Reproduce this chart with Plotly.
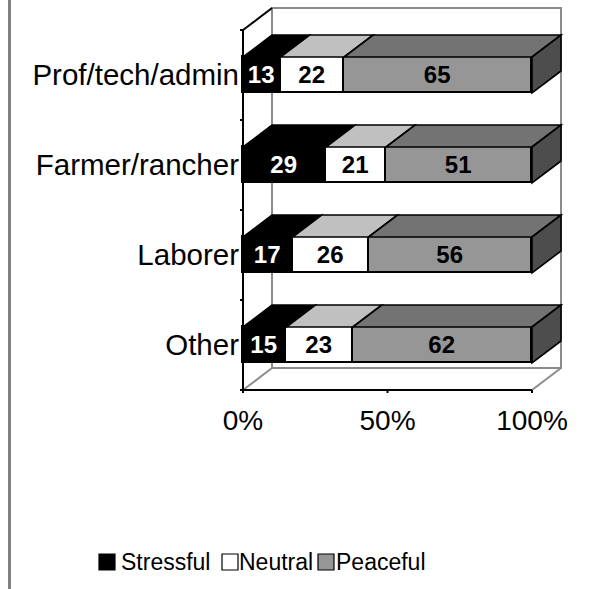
import plotly.graph_objects as go

# ---------------- data ----------------
categories = ["Prof/tech/admin", "Farmer/rancher", "Laborer", "Other"]
stressful = [13, 29, 17, 15]
neutral = [22, 21, 26, 23]
peaceful = [65, 51, 56, 62]
series_names = ["Stressful", "Neutral", "Peaceful"]
x_tickvals = [0, 50, 100]
x_ticktext = ["0%", "50%", "100%"]

# ---------------- style ----------------
FONT = "Arial, 'Liberation Sans', sans-serif"
front_colors = ["#000000", "#FFFFFF", "#969696"]
top_colors = ["#000000", "#C0C0C0", "#737373"]
side_color = "#4D4D4D"
text_colors = ["#FFFFFF", "#000000", "#000000"]
WALL = "#8C8C8C"
EDGE_W = 1.6

W, H = 602, 589
PL, PR, PT, PB = 240, 564, 5, 393        # plot area in pixels
X0_PX, X100_PX = 243, 532                 # where 0% and 100% sit
SX = (X100_PX - X0_PX) / 100.0            # px per unit
SY = 90.0                                 # px per category
FRONT_BOTTOM_PX = 390
DX = 29 / SX                              # depth offset in x units
DY = 22 / SY                              # depth offset in y units
BAR_H = 36 / SY

x_range = [-(X0_PX - PL) / SX, (PR - X0_PX) / SX]
y_bottom = -0.5 - (PB - FRONT_BOTTOM_PX) / SY
y_range = [y_bottom, y_bottom + (PB - PT) / SY]


def px2paper_x(px):
    return (px - PL) / (PR - PL)


def px2paper_y(py):
    return (PB - py) / (PB - PT)


n = len(categories)
ypos = [n - 1 - i for i in range(n)]      # first category at top
raw = [stressful, neutral, peaceful]
totals = [sum(v[i] for v in raw) for i in range(n)]
pct = [[v[i] / totals[i] * 100 for i in range(n)] for v in raw]

fig = go.Figure()
for k, name in enumerate(series_names):
    fig.add_trace(go.Bar(
        name=name, orientation="h", y=ypos, x=pct[k], width=BAR_H,
        marker=dict(color=front_colors[k], line=dict(color="black", width=EDGE_W)),
        text=[str(v) for v in raw[k]], textposition="inside",
        insidetextanchor="middle", textangle=0,
        textfont=dict(family=FONT, size=24, color=text_colors[k], weight="bold"),
        hoverinfo="skip", showlegend=False,
    ))

shapes = []
# walls / floor
shapes.append(dict(type="rect", xref="x", yref="y", x0=DX, x1=100 + DX,
                   y0=-0.5 + DY, y1=n - 0.5 + DY, line=dict(color=WALL, width=2),
                   layer="below"))
shapes.append(dict(type="line", xref="x", yref="y", x0=0, x1=DX, y0=-0.5, y1=-0.5 + DY,
                   line=dict(color=WALL, width=2), layer="below"))
shapes.append(dict(type="line", xref="x", yref="y", x0=100, x1=100 + DX, y0=-0.5,
                   y1=-0.5 + DY, line=dict(color=WALL, width=2), layer="below"))
shapes.append(dict(type="line", xref="x", yref="y", x0=0, x1=DX, y0=n - 0.5,
                   y1=n - 0.5 + DY, line=dict(color="black", width=2), layer="below"))

# 3D faces of the bars
for i in range(n):
    c = ypos[i]
    top = c + BAR_H / 2
    bot = c - BAR_H / 2
    start = 0.0
    for k in range(3):
        end = start + pct[k][i]
        path = (f"M{start},{top} L{end},{top} L{end + DX},{top + DY} "
                f"L{start + DX},{top + DY} Z")
        shapes.append(dict(type="path", xref="x", yref="y", path=path,
                           fillcolor=top_colors[k],
                           line=dict(color="black", width=EDGE_W), layer="above"))
        start = end
    path = (f"M{start},{bot} L{start},{top} L{start + DX},{top + DY} "
            f"L{start + DX},{bot + DY} Z")
    shapes.append(dict(type="path", xref="x", yref="y", path=path,
                       fillcolor=side_color,
                       line=dict(color="black", width=EDGE_W), layer="above"))

# axes lines and ticks
shapes.append(dict(type="line", xref="x", yref="y", x0=0, x1=0, y0=-0.5, y1=n - 0.5,
                   line=dict(color="black", width=2), layer="above"))
shapes.append(dict(type="line", xref="x", yref="y", x0=0, x1=100, y0=-0.5, y1=-0.5,
                   line=dict(color="black", width=2), layer="above"))
for tv in x_tickvals:
    shapes.append(dict(type="line", xref="x", yref="y", x0=tv, x1=tv, y0=-0.5,
                       y1=-0.5 - 7 / SY, line=dict(color="black", width=2), layer="above"))
for b in range(n + 1):
    yb = b - 0.5
    shapes.append(dict(type="line", xref="x", yref="y", x0=0, x1=-5 / SX, y0=yb, y1=yb,
                       line=dict(color="black", width=2), layer="above"))

# outer left border line
shapes.append(dict(type="line", xref="paper", yref="paper",
                   x0=px2paper_x(9.5), x1=px2paper_x(9.5),
                   y0=px2paper_y(0), y1=px2paper_y(H),
                   line=dict(color="#808080", width=3)))

# manual legend
leg_sq = [(99, 115), (222, 238), (318, 334)]
leg_tx = [119, 237, 334]
annotations = []
for k, name in enumerate(series_names):
    x0, x1 = leg_sq[k]
    shapes.append(dict(type="rect", xref="paper", yref="paper",
                       x0=px2paper_x(x0), x1=px2paper_x(x1),
                       y0=px2paper_y(570), y1=px2paper_y(554),
                       fillcolor=front_colors[k], line=dict(color="black", width=1.2)))
    annotations.append(dict(xref="paper", yref="paper", x=px2paper_x(leg_tx[k]),
                            y=px2paper_y(562), xanchor="left", yanchor="middle",
                            text=name, showarrow=False,
                            font=dict(family=FONT, size=23, color="black")))

fig.update_layout(
    width=W, height=H,
    margin=dict(l=PL, r=W - PR, t=PT, b=H - PB, pad=0),
    paper_bgcolor="white", plot_bgcolor="white",
    barmode="stack", bargap=0,
    font=dict(family=FONT, color="black"),
    shapes=shapes, annotations=annotations,
    xaxis=dict(range=x_range, tickvals=x_tickvals, ticktext=x_ticktext,
               showgrid=False, zeroline=False, showline=False, ticks="",
               tickfont=dict(family=FONT, size=28, color="black"),
               ticklabelstandoff=8, fixedrange=True),
    yaxis=dict(range=y_range, tickvals=ypos, ticktext=categories,
               showgrid=False, zeroline=False, showline=False, ticks="",
               tickfont=dict(family=FONT, size=29.5, color="black"),
               ticklabelstandoff=0, fixedrange=True),
    showlegend=False,
)

fig.write_html("out.html",
               config={"displayModeBar": False},
               post_script="document.body.style.margin='0px';"
                           "document.body.style.overflow='hidden';")
